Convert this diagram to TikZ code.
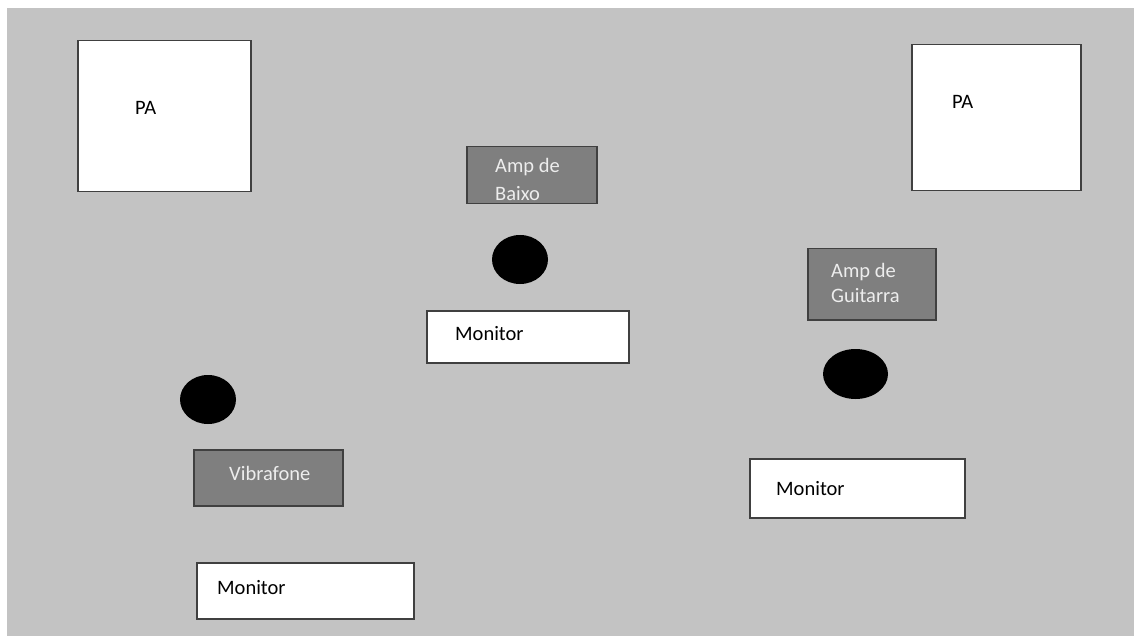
\documentclass[tikz,border=0pt]{standalone}
\usepackage{fontspec}
\setmainfont{Carlito}
\definecolor{bg}{HTML}{C3C3C3}
\definecolor{amp}{HTML}{7F7F7F}
\definecolor{edge}{HTML}{404040}
\definecolor{lighttext}{HTML}{EDEDED}
\tikzset{
  whitebox/.style={draw=edge, line width=1.5pt, fill=white, anchor=north west, inner sep=0pt},
  ampbox/.style={draw=edge, line width=1.5pt, fill=amp, anchor=north west, inner sep=0pt},
  mic/.style={ellipse, fill=black, inner sep=0pt},
  darklabel/.style={anchor=west, inner sep=0pt, font=\fontsize{20.5}{24}\selectfont, text=black},
  lightlabel/.style={anchor=west, inner sep=0pt, font=\fontsize{20.5}{24}\selectfont, text=lighttext}
}
\usetikzlibrary{shapes.geometric}
\begin{document}
\begin{tikzpicture}[x=1pt,y=-1pt]
\useasboundingbox (0,0) rectangle (1134,636);
\fill[white] (0,0) rectangle (1134,636);
\fill[bg] (7,8) rectangle (1134,636);
% PA left
\node[whitebox, minimum width=173pt, minimum height=151pt] (paL) at (77,40) {};
\node[darklabel] (paLt) at (135,108) {PA};
% PA right
\node[whitebox, minimum width=169pt, minimum height=146pt] (paR) at (911,44) {};
\node[darklabel] (paRt) at (952,102) {PA};
% Amp de Baixo
\node[ampbox, minimum width=130pt, minimum height=57pt] (ampB) at (466,146) {};
\node[lightlabel] (ampBt1) at (495,167) {Amp de};
\node[lightlabel] (ampBt2) at (495,194) {Baixo};
% mic 1
\node[mic, minimum width=56pt, minimum height=49pt] (mic1) at (520,259.5) {};
% Monitor middle
\node[whitebox, minimum width=202pt, minimum height=52pt] (monM) at (426,310) {};
\node[darklabel] (monMt) at (455,334) {Monitor};
% Amp de Guitarra
\node[ampbox, minimum width=128pt, minimum height=71pt] (ampG) at (807,248) {};
\node[lightlabel] (ampGt1) at (831,272) {Amp de};
\node[lightlabel] (ampGt2) at (831,296) {Guitarra};
% mic 2
\node[mic, minimum width=65pt, minimum height=50pt] (mic2) at (855.5,374) {};
% Monitor right
\node[whitebox, minimum width=215pt, minimum height=59pt] (monR) at (749,458) {};
\node[darklabel] (monRt) at (776,489) {Monitor};
% mic 3
\node[mic, minimum width=56pt, minimum height=49pt] (mic3) at (208,399.5) {};
% Vibrafone
\node[ampbox, minimum width=149pt, minimum height=56pt] (vib) at (193,449) {};
\node[lightlabel] (vibt) at (229,473) {Vibrafone};
% Monitor left
\node[whitebox, minimum width=217pt, minimum height=56pt] (monL) at (196,562) {};
\node[darklabel] (monLt) at (217,588) {Monitor};
\end{tikzpicture}
\end{document}
